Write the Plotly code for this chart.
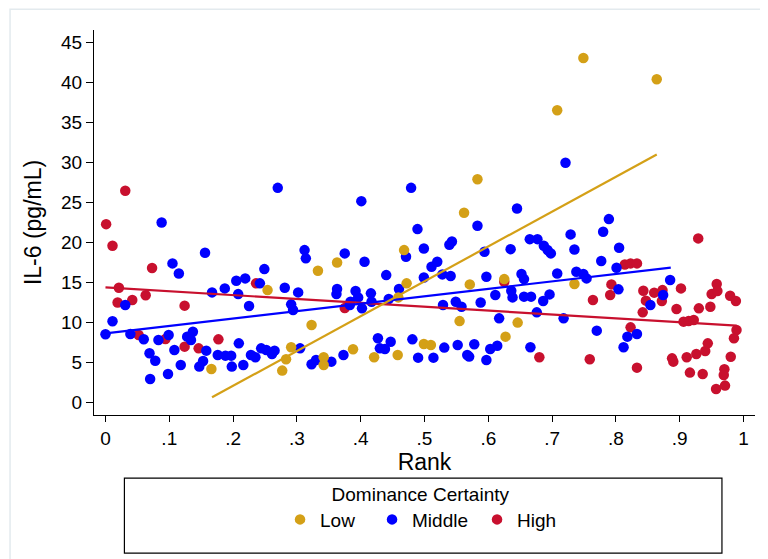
import plotly.graph_objects as go

# IL-6 against rank, split by dominance certainty
low_rank = [0.166, 0.254, 0.277, 0.283, 0.291, 0.323, 0.333, 0.342, 0.342, 0.363,
            0.388, 0.421, 0.458, 0.459, 0.468, 0.472, 0.499, 0.510, 0.555, 0.562,
            0.571, 0.583, 0.625, 0.627, 0.646, 0.708, 0.735, 0.749, 0.864]
low_il6 = [4.19, 14.04, 3.99, 5.40, 6.90, 9.68, 16.46, 5.65, 4.69, 17.49,
           6.65, 5.65, 5.94, 13.13, 19.03, 14.88, 7.31, 7.18, 10.17, 23.69,
           14.75, 27.88, 15.41, 8.23, 9.98, 36.49, 14.79, 43.01, 40.35]

mid_rank = [0.000, 0.011, 0.031, 0.039, 0.060, 0.069, 0.078, 0.070, 0.083, 0.098,
            0.088, 0.099, 0.108, 0.105, 0.115, 0.118, 0.128, 0.137, 0.134, 0.147,
            0.153, 0.158, 0.156, 0.167, 0.176, 0.187, 0.188, 0.197, 0.198, 0.205,
            0.208, 0.209, 0.216, 0.219, 0.225, 0.228, 0.235, 0.242, 0.244, 0.249,
            0.252, 0.261, 0.265, 0.270, 0.281, 0.291, 0.294, 0.302, 0.305, 0.312,
            0.314, 0.323, 0.330, 0.354, 0.373, 0.362, 0.363, 0.375, 0.383, 0.392,
            0.396, 0.384, 0.402, 0.401, 0.406, 0.416, 0.417, 0.427, 0.430, 0.438,
            0.440, 0.444, 0.447, 0.460, 0.471, 0.479, 0.481, 0.489, 0.490, 0.499,
            0.499, 0.511, 0.514, 0.520, 0.528, 0.529, 0.531, 0.539, 0.543, 0.541,
            0.549, 0.552, 0.558, 0.567, 0.721, 0.645, 0.583, 0.594, 0.635, 0.665,
            0.677, 0.687, 0.693, 0.698, 0.729, 0.735, 0.777, 0.780, 0.789, 0.597,
            0.588, 0.611, 0.636, 0.638, 0.652, 0.656, 0.656, 0.667, 0.686, 0.696,
            0.676, 0.708, 0.738, 0.749, 0.754, 0.617, 0.718, 0.578, 0.570, 0.597,
            0.603, 0.614, 0.666, 0.770, 0.805, 0.801, 0.804, 0.885, 0.874, 0.854,
            0.818, 0.833, 0.812]
mid_il6 = [8.52, 10.14, 12.17, 8.56, 7.90, 6.15, 5.23, 2.95, 7.80, 3.57,
           22.48, 8.43, 6.56, 17.37, 16.12, 4.69, 8.23, 8.85, 7.80, 4.49,
           5.19, 6.48, 18.70, 13.75, 5.94, 14.25, 5.86, 5.86, 4.49, 15.21,
           13.54, 7.39, 4.69, 15.50, 12.05, 5.94, 5.65, 14.88, 6.77, 16.66,
           6.56, 6.06, 6.48, 26.80, 14.34, 12.26, 11.55, 13.75, 6.77, 19.03,
           18.00, 4.78, 5.31, 5.11, 5.94, 13.54, 14.17, 18.62, 12.17, 13.92,
           13.13, 12.59, 11.76, 25.14, 17.58, 13.63, 12.59, 8.02, 6.77, 6.69,
           15.91, 12.92, 7.60, 14.17, 18.20, 26.80, 7.89, 21.65, 5.61, 19.24,
           15.62, 16.95, 5.61, 17.58, 16.00, 12.17, 6.86, 19.70, 20.10, 15.79,
           12.59, 7.18, 11.97, 5.94, 29.93, 24.23, 22.07, 18.83, 19.15, 20.40,
           20.40, 19.58, 19.03, 18.62, 20.99, 19.11, 17.66, 21.32, 22.90, 15.71,
           12.50, 13.42, 13.96, 13.13, 16.04, 15.41, 13.22, 13.22, 12.67, 13.50,
           11.26, 16.12, 16.33, 16.04, 15.50, 10.51, 10.51, 7.27, 5.74, 5.31,
           6.69, 7.10, 6.90, 8.98, 19.33, 16.83, 14.13, 15.29, 13.42, 12.17,
           8.23, 8.56, 6.90]

high_rank = [0.001, 0.031, 0.011, 0.021, 0.019, 0.042, 0.063, 0.073, 0.052, 0.094,
             0.124, 0.124, 0.146, 0.177, 0.236, 0.375, 0.625, 0.680, 0.764, 0.759,
             0.929, 0.814, 0.823, 0.833, 0.793, 0.791, 0.843, 0.847, 0.842, 0.860,
             0.873, 0.872, 0.902, 0.895, 0.930, 0.948, 0.950, 0.958, 0.959, 0.979,
             0.988, 0.906, 0.914, 0.922, 0.989, 0.985, 0.823, 0.833, 0.888, 0.890,
             0.911, 0.926, 0.940, 0.944, 0.980, 0.916, 0.936, 0.970, 0.969, 0.957,
             0.971]
high_il6 = [22.27, 26.43, 19.58, 14.34, 12.50, 12.80, 13.40, 16.80, 8.43, 7.93,
            12.10, 6.98, 6.77, 7.89, 14.88, 11.80, 15.09, 5.65, 12.80, 5.40,
            20.49, 17.24, 17.37, 17.37, 14.75, 13.42, 13.96, 12.72, 11.26, 13.72,
            14.04, 12.67, 14.25, 11.67, 11.76, 11.97, 13.54, 14.79, 13.92, 13.34,
            12.67, 10.10, 10.17, 10.30, 9.05, 8.02, 9.39, 4.36, 5.52, 5.11,
            5.65, 6.06, 6.44, 7.39, 5.73, 3.74, 3.57, 4.15, 3.44, 1.70,
            2.12]

# linear fit lines, end points as drawn
low_fit_rank = [0.167, 0.864]
low_fit_il6 = [0.66, 30.96]
mid_fit_rank = [0.0, 0.886]
mid_fit_il6 = [8.64, 16.85]
high_fit_rank = [0.0, 0.989]
high_fit_il6 = [14.38, 9.60]

x_ticks = [0, 0.1, 0.2, 0.3, 0.4, 0.5, 0.6, 0.7, 0.8, 0.9, 1]
x_labels = ['0', '.1', '.2', '.3', '.4', '.5', '.6', '.7', '.8', '.9', '1']
y_ticks = [0, 5, 10, 15, 20, 25, 30, 35, 40, 45]

GOLD = '#D4A017'
BLUE = '#0000FF'
RED = '#C8102E'
FONT = 'Liberation Sans, Arial, sans-serif'

fig = go.Figure()

# points: high first so low ends up on top
# (name, x, y, colour, legend order, legend entry width)
groups = [('High', high_rank, high_il6, RED, 3, 39),
          ('Middle', mid_rank, mid_il6, BLUE, 2, 60),
          ('Low', low_rank, low_il6, GOLD, 1, 47)]
for name, xs, ys, col, rank, lw in groups:
    fig.add_trace(go.Scatter(x=xs, y=ys, mode='markers', name=name,
                             legendrank=rank, legendwidth=lw,
                             marker=dict(color=col, size=10.5, line=dict(width=0))))

fits = [(high_fit_rank, high_fit_il6, RED),
        (mid_fit_rank, mid_fit_il6, BLUE),
        (low_fit_rank, low_fit_il6, GOLD)]
for xs, ys, col in fits:
    fig.add_trace(go.Scatter(x=xs, y=ys, mode='lines', showlegend=False,
                             line=dict(color=col, width=2.2)))

fig.update_layout(
    width=768, height=559,
    margin=dict(l=86, r=21, t=22, b=152),
    paper_bgcolor='white', plot_bgcolor='white',
    font=dict(family=FONT, size=19, color='black'),
    showlegend=True,
    legend=dict(orientation='h', x=0.494, xanchor='center', y=-0.158, yanchor='top',
                title=dict(text='Dominance Certainty', side='top center',
                           font=dict(size=19)),
                font=dict(size=19), bgcolor='rgba(0,0,0,0)', borderwidth=0,
                itemwidth=30, tracegroupgap=0),
    shapes=[
        # legend frame
        dict(type='rect', xref='paper', yref='paper',
             x0=0.046, x1=0.950, y0=-0.359, y1=-0.164,
             line=dict(color='black', width=1.2), fillcolor='rgba(0,0,0,0)'),
        # faint outer frame
        dict(type='rect', xref='paper', yref='paper',
             x0=-0.127, x1=1.0287, y0=-0.3904, y1=1.0538,
             line=dict(color='#e3eaee', width=1.5), fillcolor='rgba(0,0,0,0)'),
    ],
)

fig.update_xaxes(range=[-0.018, 1.018], tickvals=x_ticks, ticktext=x_labels,
                 showgrid=False, zeroline=False, showline=True,
                 linecolor='black', linewidth=1, ticks='outside', ticklen=6,
                 tickcolor='black', title=dict(text='Rank', standoff=6))
fig.update_yaxes(range=[-1.55, 46.5], tickvals=y_ticks,
                 showgrid=False, zeroline=False, showline=True,
                 linecolor='black', linewidth=1, ticks='outside', ticklen=7,
                 tickcolor='black', title=dict(text='IL-6 (pg/mL)', standoff=13))

fig.write_html("out.html")
